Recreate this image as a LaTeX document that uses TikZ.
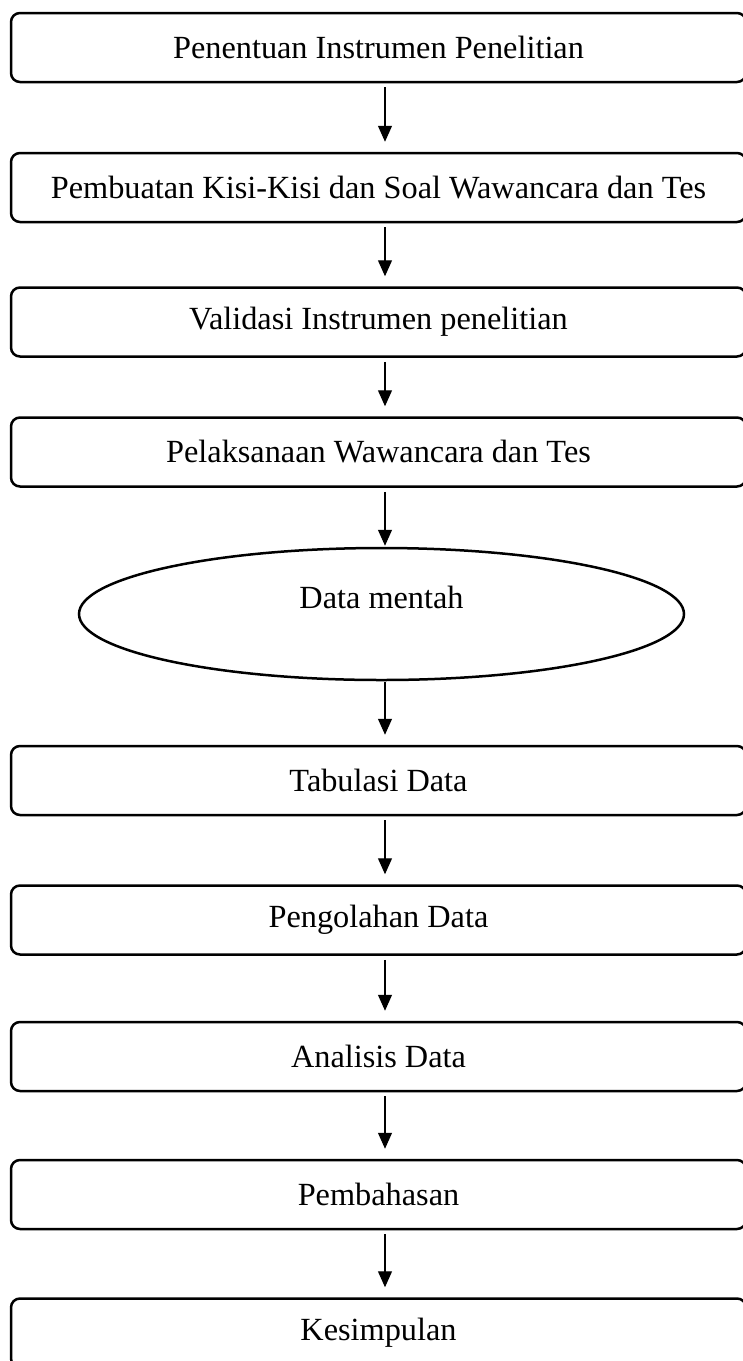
\documentclass[tikz,border=0pt]{standalone}
\usepackage{fontspec}
\setmainfont{Liberation Serif}
\usetikzlibrary{arrows.meta,shapes.geometric}
\begin{document}
\begin{tikzpicture}[x=1pt,y=-1pt,
  font=\fontsize{32.3}{37}\selectfont,
  stepbox/.style={draw,line width=2.5pt,rounded corners=9pt,minimum width=735pt,minimum height=69pt,inner sep=0pt},
  oval/.style={draw,line width=2.5pt,ellipse,minimum width=605pt,minimum height=132pt,inner sep=0pt},
  arr/.style={line width=1.2pt,-{Triangle[length=16pt,width=14pt]},shorten <=4pt,shorten >=10pt}]
\useasboundingbox (0,0) rectangle (743,1361);
\coordinate (ax) at (385,0);
\node[stepbox] (b1) at (378.5,47.5) {Penentuan Instrumen Penelitian};
\node[stepbox] (b2) at (378.5,187.5) {Pembuatan Kisi-Kisi dan Soal Wawancara dan Tes};
\node[stepbox] (b3) at (378.5,322) {Validasi Instrumen penelitian};
\node[stepbox] (b4) at (378.5,452) {Pelaksanaan Wawancara dan Tes};
\node[oval] (e) at (381.5,614) {};
\node (et) at (381.5,597) {Data mentah};
\node[stepbox] (b6) at (378.5,780.5) {Tabulasi Data};
\node[stepbox] (b7) at (378.5,920) {Pengolahan Data};
\node[stepbox] (b8) at (378.5,1056.5) {Analisis Data};
\node[stepbox] (b9) at (378.5,1194.5) {Pembahasan};
\node[stepbox] (b10) at (378.5,1333) {Kesimpulan};
\draw[arr] (b1.south -| ax) -- (b2.north -| ax);
\draw[arr] (b2.south -| ax) -- (b3.north -| ax);
\draw[arr] (b3.south -| ax) -- (b4.north -| ax);
\draw[arr,shorten >=1pt] (b4.south -| ax) -- (e.north -| ax);
\draw[arr,shorten <=1pt] (e.south -| ax) -- (b6.north -| ax);
\draw[arr] (b6.south -| ax) -- (b7.north -| ax);
\draw[arr] (b7.south -| ax) -- (b8.north -| ax);
\draw[arr] (b8.south -| ax) -- (b9.north -| ax);
\draw[arr] (b9.south -| ax) -- (b10.north -| ax);
\end{tikzpicture}
\end{document}
